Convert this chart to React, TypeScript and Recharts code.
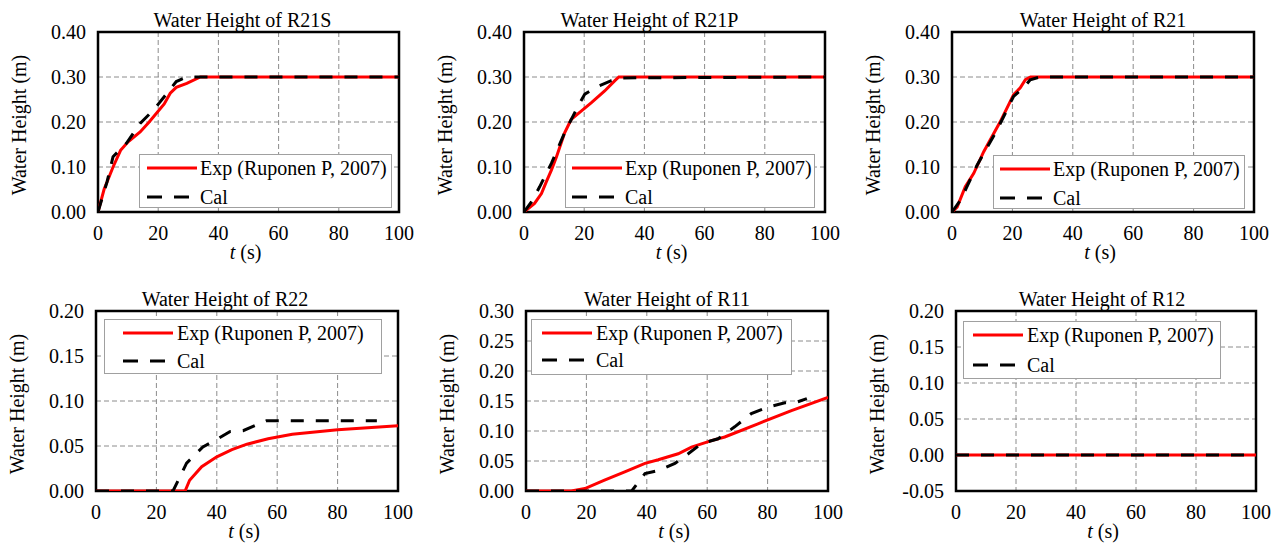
import React from 'react';
import { LineChart, Line, XAxis, YAxis, CartesianGrid, ReferenceArea, Legend } from 'recharts';

const FONT = '"Liberation Serif", "Times New Roman", serif';
const TXT: React.CSSProperties = { fontFamily: FONT, fontSize: 20, fill: '#000' };

const xTicks = [0, 20, 40, 60, 80, 100];
const yTicks40 = [0, 0.1, 0.2, 0.3, 0.4];
const yTicks20 = [0, 0.05, 0.1, 0.15, 0.2];
const yTicks30 = [0, 0.05, 0.1, 0.15, 0.2, 0.25, 0.3];
const yTicksNeg = [-0.05, 0, 0.05, 0.1, 0.15, 0.2];

const seriesNames = ['Exp (Ruponen P, 2007)', 'Cal'];

// R21S
const r21sExpT = [0, 2, 5, 7.5, 10, 14, 17, 22, 24, 26, 29.5, 34, 100];
const r21sExpH = [0, 0.05, 0.1, 0.137, 0.156, 0.178, 0.2, 0.24, 0.264, 0.277, 0.286, 0.3, 0.3];
const r21sCalT = [0, 3, 5, 9.5, 14, 18.5, 22, 26, 29.5, 33, 100];
const r21sCalH = [0, 0.067, 0.123, 0.153, 0.197, 0.227, 0.256, 0.29, 0.3, 0.3, 0.3];

// R21P
const r21pExpT = [0, 3.5, 5.8, 7.4, 9.1, 10.8, 13.5, 15.7, 19, 22.4, 26.8, 30.2, 31.5, 100];
const r21pExpH = [0, 0.019, 0.041, 0.067, 0.093, 0.123, 0.176, 0.206, 0.224, 0.243, 0.269, 0.292, 0.3, 0.3];
const r21pCalT = [0, 2.4, 5.2, 9.1, 13.5, 18, 20.2, 24.6, 29, 32.5, 100];
const r21pCalH = [0, 0.022, 0.056, 0.108, 0.176, 0.236, 0.262, 0.279, 0.292, 0.298, 0.3];

// R21
const r21ExpT = [0, 1.7, 4.4, 7.2, 10.5, 16, 20.4, 22.6, 24.3, 26, 100];
const r21ExpH = [0, 0.011, 0.056, 0.086, 0.134, 0.201, 0.261, 0.276, 0.294, 0.3, 0.3];
const r21CalT = [0, 2.8, 8.3, 14.9, 20.4, 23.7, 25.9, 29.2, 100];
const r21CalH = [0, 0.026, 0.104, 0.182, 0.257, 0.276, 0.294, 0.3, 0.3];

// R22
const r22ExpT = [0, 29.5, 31, 35, 40, 45, 50, 57, 65, 80, 100];
const r22ExpH = [0, 0, 0.012, 0.027, 0.038, 0.046, 0.052, 0.058, 0.063, 0.068, 0.0725];
const r22CalT = [0, 25.5, 30, 35.4, 39.8, 44.3, 48.7, 56.4, 93];
const r22CalH = [0, 0, 0.031, 0.049, 0.057, 0.066, 0.067, 0.078, 0.078];

// R11
const r11ExpT = [0, 15, 19.5, 26, 32.7, 39.4, 43.8, 50.4, 54.8, 61.4, 65.8, 76.8, 87.9, 100];
const r11ExpH = [0, 0, 0.004, 0.018, 0.032, 0.046, 0.052, 0.062, 0.073, 0.084, 0.09, 0.112, 0.134, 0.156];
const r11CalT = [0, 35, 39.4, 43.8, 49.3, 53.7, 58.1, 63.6, 69.1, 74.6, 80.2, 85.7, 89, 93];
const r11CalH = [0, 0, 0.029, 0.034, 0.046, 0.062, 0.079, 0.087, 0.107, 0.129, 0.14, 0.147, 0.147, 0.154];

// R12
const r12ExpT = [0, 100];
const r12ExpH = [0, 0];
const r12CalT = [0, 100];
const r12CalH = [0, 0];

const ML = 95; // space left of plot
const MT = 40; // space above plot
const MR = 25;
const MB = 58;

type PanelCfg = {
  title: string;
  x: number; y: number; w: number; h: number;
  yDomain: [number, number];
  yTicks: number[];
  expT: number[]; expH: number[]; calT: number[]; calH: number[];
  titleDx: number;
  leg: { dx: number; dy: number; w: number; h: number; line: number; text: number; r1: number; r2: number };
};

const panels: PanelCfg[] = [
  { title: 'Water Height of R21S', x: 98, y: 32, w: 301, h: 180, yDomain: [0, 0.4], yTicks: yTicks40,
    expT: r21sExpT, expH: r21sExpH, calT: r21sCalT, calH: r21sCalH, titleDx: -6,
    leg: { dx: 41, dy: 122, w: 253, h: 54, line: 8, text: 61, r1: 14, r2: 43 } },
  { title: 'Water Height of R21P', x: 524, y: 32, w: 301, h: 180, yDomain: [0, 0.4], yTicks: yTicks40,
    expT: r21pExpT, expH: r21pExpH, calT: r21pCalT, calH: r21pCalH, titleDx: -25,
    leg: { dx: 41, dy: 122, w: 250, h: 54, line: 7, text: 60, r1: 14, r2: 43 } },
  { title: 'Water Height of R21', x: 952, y: 32, w: 302, h: 180, yDomain: [0, 0.4], yTicks: yTicks40,
    expT: r21ExpT, expH: r21ExpH, calT: r21CalT, calH: r21CalH, titleDx: 0,
    leg: { dx: 41, dy: 123, w: 252, h: 54, line: 7, text: 60, r1: 14, r2: 43 } },
  { title: 'Water Height of R22', x: 96, y: 311, w: 302, h: 180, yDomain: [0, 0.2], yTicks: yTicks20,
    expT: r22ExpT, expH: r22ExpH, calT: r22CalT, calH: r22CalH, titleDx: -22,
    leg: { dx: 8, dy: 8, w: 278, h: 55, line: 19, text: 73, r1: 14, r2: 42 } },
  { title: 'Water Height of R11', x: 526, y: 311, w: 302, h: 180, yDomain: [0, 0.3], yTicks: yTicks30,
    expT: r11ExpT, expH: r11ExpH, calT: r11CalT, calH: r11CalH, titleDx: -10,
    leg: { dx: 5, dy: 8, w: 261, h: 56, line: 11, text: 65, r1: 14, r2: 41 } },
  { title: 'Water Height of R12', x: 956, y: 311, w: 300, h: 180, yDomain: [-0.05, 0.2], yTicks: yTicksNeg,
    expT: r12ExpT, expH: r12ExpH, calT: r12CalT, calH: r12CalH, titleDx: -4,
    leg: { dx: 7, dy: 10, w: 258, h: 58, line: 10, text: 64, r1: 14, r2: 44 } },
];

function XTick(props: any) {
  const { x, y, payload } = props;
  return (
    <text x={x} y={y + 28} textAnchor="middle" style={TXT}>{String(payload.value)}</text>
  );
}

function YTick(props: any) {
  const { x, y, payload } = props;
  return (
    <text x={x - 12} y={y + 7} textAnchor="end" style={TXT}>{Number(payload.value).toFixed(2)}</text>
  );
}

function LegendBox({ leg }: { leg: PanelCfg['leg'] }) {
  const rows = [
    { name: seriesNames[0], color: '#ff0000', dash: undefined as string | undefined, cy: leg.r1 },
    { name: seriesNames[1], color: '#000000', dash: '15 12', cy: leg.r2 },
  ];
  return (
    <div style={{ position: 'relative', width: leg.w, height: leg.h, boxSizing: 'border-box', border: '1px solid #a0a0a0', background: '#fff' }}>
      <svg width={leg.w} height={leg.h} style={{ position: 'absolute', left: -1, top: -1, overflow: 'visible' }}>
        {rows.map((r) => (
          <g key={r.name}>
            <line x1={leg.line} x2={leg.line + 50} y1={r.cy} y2={r.cy} stroke={r.color} strokeWidth={3} strokeDasharray={r.dash} />
            <text x={leg.text} y={r.cy + 7} style={TXT}>{r.name}</text>
          </g>
        ))}
      </svg>
    </div>
  );
}

function Panel({ p }: { p: PanelCfg }) {
  const W = ML + p.w + MR;
  const H = MT + p.h + MB;
  const exp = p.expT.map((t, i) => ({ t, h: p.expH[i] }));
  const cal = p.calT.map((t, i) => ({ t, h: p.calH[i] }));
  const titleFn = (props: any) => {
    const vb = props.viewBox || {};
    return (
      <text x={vb.x + vb.width / 2 + p.titleDx} y={vb.y - 5} textAnchor="middle" style={TXT}>
        {p.title}
      </text>
    );
  };
  const xLabelFn = (props: any) => {
    const vb = props.viewBox || {};
    return (
      <text x={vb.x + vb.width / 2 - 3} y={vb.y + 47} textAnchor="middle" style={TXT}>
        <tspan style={{ fontStyle: 'italic' }}>t</tspan> (s)
      </text>
    );
  };
  const yLabelFn = (props: any) => {
    const vb = props.viewBox || {};
    const cx = vb.x + vb.width - 79;
    const cy = vb.y + vb.height / 2 + 3;
    return (
      <text x={cx} y={cy + 7} transform={`rotate(-90 ${cx} ${cy})`} textAnchor="middle" style={TXT}>
        Water Height (m)
      </text>
    );
  };
  return (
    <div style={{ position: 'absolute', left: p.x - ML, top: p.y - MT }}>
      <LineChart width={W} height={H} margin={{ top: MT, right: MR, left: 0, bottom: 0 }}>
        <CartesianGrid stroke="#8c8c8c" strokeDasharray="5 3" strokeWidth={1} />
        <XAxis type="number" dataKey="t" domain={[0, 100]} ticks={xTicks} interval={0} tickLine={false} axisLine={false}
          tickSize={0} tickMargin={0} height={MB} tick={<XTick />} label={xLabelFn} allowDataOverflow />
        <YAxis type="number" domain={p.yDomain} ticks={p.yTicks} interval={0} tickLine={false} axisLine={false}
          tickSize={0} tickMargin={0} width={ML} tick={<YTick />} label={yLabelFn} allowDataOverflow />
        <ReferenceArea x1={0} x2={100} y1={p.yDomain[0]} y2={p.yDomain[1]} fill="none" fillOpacity={0}
          stroke="#000" strokeWidth={2.5} ifOverflow="visible" label={titleFn} />
        <Legend verticalAlign="middle" align="center" layout="horizontal"
          wrapperStyle={{ left: ML + p.leg.dx, top: MT + p.leg.dy, width: p.leg.w, height: p.leg.h }}
          content={() => <LegendBox leg={p.leg} />} />
        <Line data={exp} dataKey="h" name={seriesNames[0]} type="linear" stroke="#ff0000" strokeWidth={3} dot={false} activeDot={false} isAnimationActive={false} />
        <Line data={cal} dataKey="h" name={seriesNames[1]} type="linear" stroke="#000000" strokeWidth={3} strokeDasharray="13 12" dot={false} activeDot={false} isAnimationActive={false} />
      </LineChart>
    </div>
  );
}

export default function App() {
  return (
    <div style={{ position: 'absolute', left: 0, top: 0, width: 1276, height: 544, background: '#fff', overflow: 'hidden' }}>
      {panels.map((p) => (
        <Panel key={p.title} p={p} />
      ))}
    </div>
  );
}
